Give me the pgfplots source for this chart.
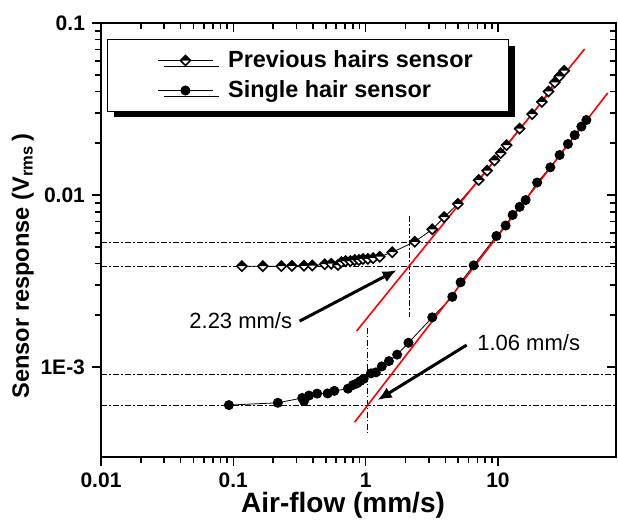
\documentclass[border=0pt]{standalone}
\usepackage{fontspec}
\setmainfont{Liberation Sans}
\usepackage{pgfplots}
\pgfplotsset{compat=1.18}
\usetikzlibrary{shadows,arrows.meta}

% diamond, upper half black, lower half white
\pgfdeclareplotmark{halfdiamond}{%
  \begin{pgfscope}
    \pgfsetfillcolor{white}
    \pgfpathmoveto{\pgfqpoint{-\pgfplotmarksize}{0pt}}
    \pgfpathlineto{\pgfqpoint{0pt}{\pgfplotmarksize}}
    \pgfpathlineto{\pgfqpoint{\pgfplotmarksize}{0pt}}
    \pgfpathlineto{\pgfqpoint{0pt}{-\pgfplotmarksize}}
    \pgfpathclose
    \pgfusepathqfill
  \end{pgfscope}
  \begin{pgfscope}
    \pgfsetfillcolor{black}
    \pgfpathmoveto{\pgfqpoint{-\pgfplotmarksize}{0pt}}
    \pgfpathlineto{\pgfqpoint{0pt}{\pgfplotmarksize}}
    \pgfpathlineto{\pgfqpoint{\pgfplotmarksize}{0pt}}
    \pgfpathclose
    \pgfusepathqfill
  \end{pgfscope}
  \pgfpathmoveto{\pgfqpoint{-\pgfplotmarksize}{0pt}}
  \pgfpathlineto{\pgfqpoint{0pt}{\pgfplotmarksize}}
  \pgfpathlineto{\pgfqpoint{\pgfplotmarksize}{0pt}}
  \pgfpathlineto{\pgfqpoint{0pt}{-\pgfplotmarksize}}
  \pgfpathclose
  \pgfusepathqstroke
}

\pgfplotstableread{
x y
0.116 3.86e-3
0.167 3.86e-3
0.231 3.86e-3
0.277 3.88e-3
0.342 3.88e-3
0.395 3.89e-3
0.490 3.96e-3
0.550 3.99e-3
0.618 3.92e-3
0.655 4.07e-3
0.706 4.13e-3
0.766 4.13e-3
0.826 4.19e-3
0.890 4.19e-3
0.955 4.25e-3
1.04 4.25e-3
1.14 4.30e-3
1.28 4.38e-3
1.59 4.65e-3
2.35 5.35e-3
3.19 6.32e-3
3.92 7.43e-3
4.98 8.89e-3
7.15 1.222e-2
8.28 1.387e-2
9.40 1.588e-2
10.48 1.754e-2
11.63 1.948e-2
14.59 2.43e-2
18.13 2.95e-2
21.47 3.48e-2
24.08 4.00e-2
26.84 4.51e-2
29.12 4.90e-2
31.72 5.28e-2
}\previous

\pgfplotstableread{
x y
0.0926 6.01e-4
0.217 6.20e-4
0.332 6.61e-4
0.342 6.34e-4
0.373 6.83e-4
0.430 7.01e-4
0.516 7.03e-4
0.580 7.27e-4
0.735 7.49e-4
0.802 7.86e-4
0.860 8.04e-4
0.909 8.29e-4
0.966 8.54e-4
1.096 9.19e-4
1.194 9.31e-4
1.325 1.009e-3
1.500 1.083e-3
1.730 1.181e-3
2.107 1.384e-3
3.19 1.945e-3
4.52 2.56e-3
5.22 3.11e-3
6.55 3.90e-3
9.74 5.78e-3
11.43 6.65e-3
12.91 7.66e-3
14.59 8.54e-3
16.19 9.35e-3
19.78 1.182e-2
24.89 1.449e-2
29.26 1.709e-2
33.8 1.98e-2
38.0 2.23e-2
42.7 2.50e-2
46.6 2.73e-2
}\single

\pgfplotsset{
  dd/.style={black, line width=0.5pt, dash pattern=on 3pt off 1.2pt on 0.6pt off 1.2pt, forget plot},
}

\begin{document}
\begin{tikzpicture}
% mirrored ticks on top and right, pointing inward (not counted in the size)
\begin{scope}[overlay]
\begin{loglogaxis}[
  width=257.5pt, height=217pt, scale only axis,
  xmin=0.01, xmax=78, ymin=3e-4, ymax=0.1,
  xtick={0.01,0.1,1,10}, ytick={1e-3,0.01,0.1},
  major tick length=4.5pt, minor tick length=3pt,
  every tick/.style={black, line width=0.8pt},
  axis line style={line width=1pt},
  xtick pos=right, ytick pos=right, tick align=inside,
  xticklabels={}, yticklabels={}]
\end{loglogaxis}
\end{scope}
\begin{loglogaxis}[
  name=ax,
  width=257.5pt, height=217pt, scale only axis,
  xmin=0.01, xmax=78, ymin=3e-4, ymax=0.1,
  xtick={0.01,0.1,1,10}, ytick={1e-3,0.01,0.1},
  major tick length=4.5pt, minor tick length=3pt,
  every tick/.style={black, line width=0.8pt},
  axis line style={line width=1pt},
  xtick pos=left, ytick pos=left, tick align=outside,
  /pgf/number format/assume math mode=true,
  xticklabels={0.01,0.1,1,10},
  yticklabels={1E-3,0.01,0.1},
  tick label style={font=\fontsize{10.5}{12}\selectfont\bfseries},
  xlabel style={font=\fontsize{14}{16}\selectfont\bfseries, at={(ticklabel cs:0.47)}, yshift=4.5pt},
  ylabel style={font=\fontsize{11.8}{14}\selectfont\bfseries, at={(ticklabel cs:0.44)}, yshift=-3.5pt},
  xlabel={Air-flow (mm/s)},
  ylabel={Sensor response (V\textsubscript{rms}\,)},
  legend style={at={(0.0117,0.963)}, anchor=north west,
    draw=black, line width=0.5pt, fill=white,
    font=\fontsize{11.7}{14}\selectfont\bfseries,
    inner xsep=16pt, inner ysep=3.5pt, row sep=1pt,
    /tikz/every odd column/.append style={column sep=5.5pt},
    drop shadow={shadow xshift=3pt, shadow yshift=-3pt, fill=black, opacity=1}},
  legend cell align=left,
  legend image code/.code={%
    \path (-0.32cm,0cm);
    \draw[mark repeat=2, mark phase=2, #1] plot coordinates {(0cm,0cm) (0.48cm,0cm) (0.96cm,0cm)};},
]
\addplot[black, line width=0.4pt, mark=halfdiamond, mark size=2.5pt,
  mark options={solid, line width=0.8pt}] table {\previous};
\addlegendentry{Previous hairs sensor}
\addplot[black, line width=0.4pt, mark=*, mark size=2.3pt,
  mark options={solid, fill=black}] table {\single};
\addlegendentry{Single hair sensor}

% threshold guide lines
\addplot[dd] coordinates {(0.01,5.33e-3) (78,5.33e-3)};
\addplot[dd] coordinates {(0.01,3.86e-3) (78,3.86e-3)};
\addplot[dd] coordinates {(0.01,9.1e-4) (78,9.1e-4)};
\addplot[dd] coordinates {(0.01,6.0e-4) (78,6.0e-4)};
\addplot[dd] coordinates {(2.15,7.55e-3) (2.15,1.95e-3)};
\addplot[dd] coordinates {(1.04,1.69e-3) (1.04,4.13e-4)};

% linear fits
\addplot[red, line width=0.8pt, forget plot] coordinates {(0.855,1.62e-3) (45.2,7.06e-2)};
\addplot[red, line width=0.8pt, forget plot] coordinates {(0.826,4.78e-4) (67.5,3.92e-2)};

\draw[-{Latex[length=7pt,width=6pt]}, line width=1.5pt] (axis cs:0.317,1.85e-3) -- (axis cs:1.715,3.66e-3);
\draw[-{Latex[length=7pt,width=6pt]}, line width=1.5pt] (axis cs:5.80,1.343e-3) -- (axis cs:1.232,6.43e-4);
\node[anchor=east, inner sep=1pt, font=\fontsize{11}{13}\selectfont] at (axis cs:0.29,1.86e-3) {2.23 mm/s};
\node[anchor=west, inner sep=1pt, font=\fontsize{11}{13}\selectfont] at (axis cs:6.7,1.38e-3) {1.06 mm/s};
\end{loglogaxis}
% frame the page as in the reference
\pgfresetboundingbox
\path ([xshift=-50.5pt,yshift=-31pt]ax.south west) rectangle ([xshift=1pt,yshift=11.5pt]ax.north east);
\end{tikzpicture}
\end{document}
